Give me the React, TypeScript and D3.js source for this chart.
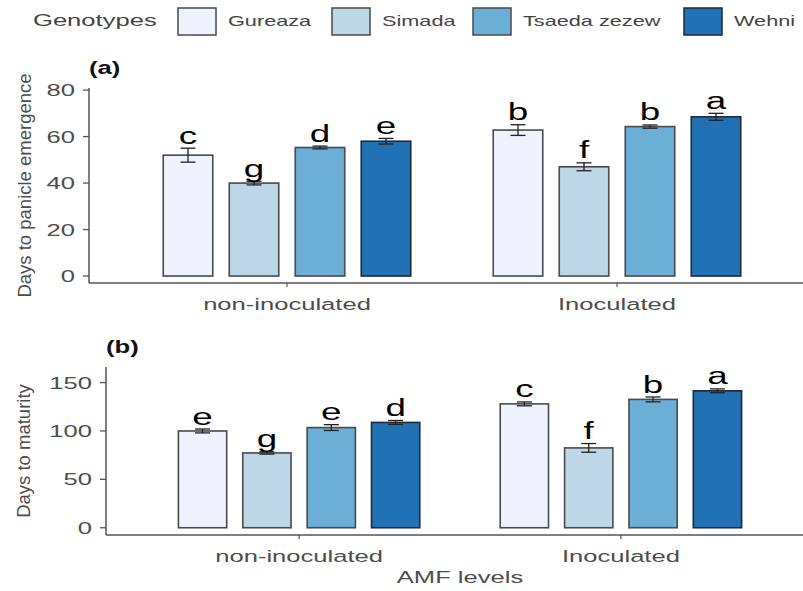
import * as d3 from 'd3'

const GENOTYPES = ['Gureaza', 'Simada', 'Tsaeda zezew', 'Wehni']
const AMF_LEVELS = ['non-inoculated', 'Inoculated']
const COLORS = ['#eff3ff', '#bdd7e7', '#6baed6', '#2171b5']

// (a) days to panicle emergence
const DPE_NON = [52, 40, 55.3, 58]
const DPE_INO = [62.8, 47, 64.3, 68.5]
const DPE_ERR_NON = [3, 0.8, 0.6, 1.2]
const DPE_ERR_INO = [2.3, 1.7, 0.7, 1.5]
const DPE_LET_NON = ['c', 'g', 'd', 'e']
const DPE_LET_INO = ['b', 'f', 'b', 'a']
const DPE_TICKS = [0, 20, 40, 60, 80]

// (b) days to maturity
const DM_NON = [100, 77.3, 103.5, 108.8]
const DM_INO = [128, 82.5, 132.6, 141.5]
const DM_ERR_NON = [2, 1.2, 3, 2]
const DM_ERR_INO = [2, 4.5, 2.5, 2]
const DM_LET_NON = ['e', 'g', 'e', 'd']
const DM_LET_INO = ['c', 'f', 'b', 'a']
const DM_TICKS = [0, 50, 100, 150]

// legend key x positions (layout only)
const LEGEND_X = [178, 332, 473, 684]

const FONT = '"Liberation Sans", Arial, Helvetica, sans-serif'
const SX = 1.55 // horizontal text stretch seen in the figure

function SText({ x, y, size, anchor = 'start', fill = '#4d4d4d', weight = 400, sx = SX, children }: any) {
  return (
    <text
      transform={`translate(${x},${y}) scale(${sx},1)`}
      textAnchor={anchor}
      fontSize={size}
      fontWeight={weight}
      fontFamily={FONT}
      fill={fill}
    >
      {children}
    </text>
  )
}

interface PanelProps {
  tag: string
  title: string
  left: number
  right: number
  top: number
  bottom: number
  yDomain: [number, number]
  ticks: number[]
  means: number[][]
  errs: number[][]
  letters: string[][]
  titleX: number
}

function Panel(p: PanelProps) {
  const y = d3.scaleLinear().domain(p.yDomain).range([p.bottom, p.top])
  const x0 = d3.scalePoint<string>().domain(AMF_LEVELS).range([p.left, p.right]).padding(0.6)
  const step = x0.step()
  const x1 = d3.scaleBand<string>()
    .domain(GENOTYPES)
    .range([-0.4 * step, 0.4 * step])
    .paddingInner(0.25)
    .paddingOuter(0.125)
  const bw = x1.bandwidth()

  return (
    <g>
      <SText x={p.left} y={p.top - 14} size={19} weight={700} fill="#111" sx={1.35}>
        {p.tag}
      </SText>

      {/* bars */}
      {AMF_LEVELS.map((lvl, gi) => (
        <g key={lvl}>
          {GENOTYPES.map((g, i) => {
            const v = p.means[gi][i]
            const e = p.errs[gi][i]
            const bx = (x0(lvl) ?? 0) + (x1(g) ?? 0)
            const cx = bx + bw / 2
            const yTop = y(v)
            const yErrTop = y(v + e)
            const yErrBot = y(v - e)
            return (
              <g key={g}>
                <rect
                  x={bx}
                  y={yTop}
                  width={bw}
                  height={y(0) - yTop}
                  fill={COLORS[i]}
                  stroke={i === 3 ? '#1e2a36' : '#4a4a4a'}
                  strokeWidth={1.6}
                />
                <g stroke="#222" strokeWidth={1.3}>
                  <line x1={cx} x2={cx} y1={yErrTop} y2={yErrBot} />
                  <line x1={cx - 7.5} x2={cx + 7.5} y1={yErrTop} y2={yErrTop} />
                  <line x1={cx - 7.5} x2={cx + 7.5} y1={yErrBot} y2={yErrBot} />
                </g>
                <SText x={cx} y={yErrTop - 4.5} size={23} anchor="middle" fill="#000" sx={1.6}>
                  {p.letters[gi][i]}
                </SText>
              </g>
            )
          })}
        </g>
      ))}

      {/* y axis */}
      <line x1={p.left} x2={p.left} y1={p.top} y2={p.bottom} stroke="#555" strokeWidth={1.5} />
      {p.ticks.map((t) => (
        <g key={t}>
          <line x1={p.left - 6} x2={p.left} y1={y(t)} y2={y(t)} stroke="#555" strokeWidth={1.3} />
          <SText x={p.left - 14} y={y(t) + 6} size={16.5} anchor="end">
            {t}
          </SText>
        </g>
      ))}
      <text
        transform={`translate(${p.titleX},${(p.top + p.bottom) / 2}) rotate(-90)`}
        textAnchor="middle"
        fontSize={18.5}
        fontFamily={FONT}
        fill="#4d4d4d"
      >
        {p.title}
      </text>

      {/* x axis */}
      <line x1={p.left} x2={p.right} y1={p.bottom} y2={p.bottom} stroke="#555" strokeWidth={1.5} />
      {AMF_LEVELS.map((lvl) => (
        <g key={lvl}>
          <line x1={x0(lvl)} x2={x0(lvl)} y1={p.bottom} y2={p.bottom + 4} stroke="#555" strokeWidth={1.2} />
          <SText x={x0(lvl)} y={p.bottom + 27} size={16.5} anchor="middle">
            {lvl}
          </SText>
        </g>
      ))}
    </g>
  )
}

export default function App() {
  return (
    <svg
      width={803}
      height={591}
      style={{ position: 'absolute', left: 0, top: 0, background: '#fff' }}
    >
      <rect width={803} height={591} fill="#fff" />

      {/* legend */}
      <SText x={33} y={26} size={16.5} fill="#444">
        Genotypes
      </SText>
      {GENOTYPES.map((g, i) => (
        <g key={g}>
          <rect
            x={LEGEND_X[i]}
            y={8}
            width={38}
            height={27}
            fill={COLORS[i]}
            stroke={i === 3 ? '#1e2a36' : '#4a4a4a'}
            strokeWidth={1.5}
          />
          <SText x={LEGEND_X[i] + 50} y={26} size={14} fill="#444">
            {g}
          </SText>
        </g>
      ))}

      <Panel
        tag="(a)"
        title="Days to panicle emergence"
        left={89}
        right={815}
        top={88}
        bottom={283}
        yDomain={[-3.0, 80.9]}
        ticks={DPE_TICKS}
        means={[DPE_NON, DPE_INO]}
        errs={[DPE_ERR_NON, DPE_ERR_INO]}
        letters={[DPE_LET_NON, DPE_LET_INO]}
        titleX={31}
      />
      <Panel
        tag="(b)"
        title="Days to maturity"
        left={106}
        right={814}
        top={367}
        bottom={535}
        yDomain={[-7.5, 166.1]}
        ticks={DM_TICKS}
        means={[DM_NON, DM_INO]}
        errs={[DM_ERR_NON, DM_ERR_INO]}
        letters={[DM_LET_NON, DM_LET_INO]}
        titleX={30}
      />

      <SText x={460} y={583} size={16.5} anchor="middle">
        AMF levels
      </SText>
    </svg>
  )
}
